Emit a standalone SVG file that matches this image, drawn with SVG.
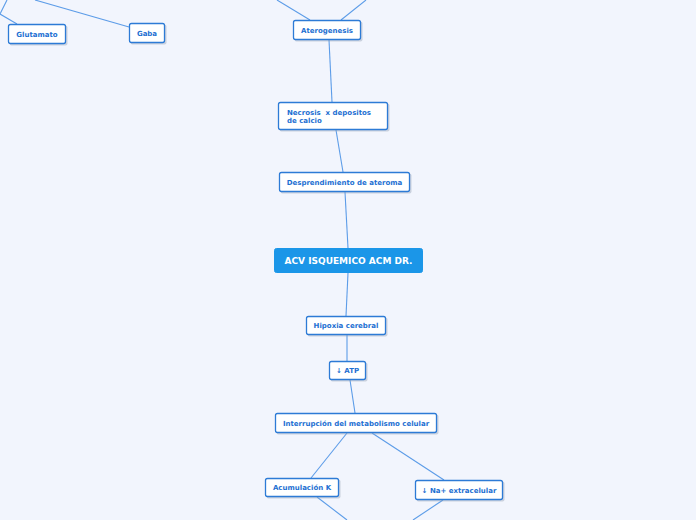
<svg xmlns="http://www.w3.org/2000/svg" width="696" height="520" viewBox="0 0 696 520">
<style>
.bg{fill:#f2f5fd}
.box{fill:#ffffff;stroke:#2d7bd6;stroke-width:1.3}
.sh{fill:#9aa6b8;opacity:0.45}
.t{font-family:"DejaVu Sans",Verdana,sans-serif;font-weight:bold;font-size:7px;fill:#1d6fd2}
.c{text-anchor:middle}
.main{fill:#1b96e8;stroke:#1b96e8}
.mt{font-family:"DejaVu Sans",Verdana,sans-serif;font-weight:bold;font-size:9px;fill:#ffffff;text-anchor:middle}
.ln{stroke:#5c9ce8;stroke-width:1.1;fill:none}
</style>
<rect class="bg" x="0" y="0" width="696" height="520"/>
<g id="connectors">
<polyline class="ln" points="7,0 0,14"/>
<line class="ln" x1="0" y1="14" x2="17" y2="24"/>
<line class="ln" x1="35" y1="0" x2="129" y2="27"/>
<line class="ln" x1="277" y1="0" x2="310" y2="20"/>
<line class="ln" x1="366" y1="0" x2="341" y2="20"/>
<line class="ln" x1="329" y1="40" x2="332" y2="102"/>
<line class="ln" x1="336" y1="130" x2="343" y2="172"/>
<line class="ln" x1="345" y1="192" x2="348" y2="248"/>
<line class="ln" x1="348" y1="273" x2="346" y2="316"/>
<line class="ln" x1="347" y1="335" x2="347" y2="361"/>
<line class="ln" x1="350" y1="380" x2="355" y2="413"/>
<line class="ln" x1="347" y1="433" x2="311" y2="478"/>
<line class="ln" x1="372" y1="433" x2="444" y2="480"/>
<line class="ln" x1="317" y1="497" x2="347" y2="520"/>
<line class="ln" x1="443" y1="500" x2="413" y2="520"/>
</g>
<g id="glutamato">
<rect class="sh" x="9.5" y="25.5" width="58" height="20" rx="2"/>
<rect class="box" x="8.5" y="24.5" width="57" height="19" rx="2"/>
<text class="t c" x="37" y="36.5">Glutamato</text>
</g>
<g id="gaba">
<rect class="sh" x="130.5" y="24.5" width="36" height="20" rx="2"/>
<rect class="box" x="129.5" y="23.5" width="35" height="19" rx="2"/>
<text class="t c" x="147" y="35.5">Gaba</text>
</g>
<g id="aterogenesis">
<rect class="sh" x="294.5" y="21.5" width="68" height="20" rx="2"/>
<rect class="box" x="293.5" y="20.5" width="67" height="19" rx="2"/>
<text class="t c" x="327" y="32.5">Aterogenesis</text>
</g>
<g id="necrosis">
<rect class="sh" x="279.5" y="103.5" width="110" height="28" rx="2"/>
<rect class="box" x="278.5" y="102.5" width="109" height="27" rx="2"/>
<text class="t" x="287" y="115" xml:space="preserve" style="white-space:pre">Necrosis  x depositos</text>
<text class="t" x="287" y="123">de calcio</text>
</g>
<g id="desprendimiento">
<rect class="sh" x="280.5" y="173.5" width="131" height="20" rx="2"/>
<rect class="box" x="279.5" y="172.5" width="130" height="19" rx="2"/>
<text class="t c" x="344.5" y="184.5">Desprendimiento de ateroma</text>
</g>
<g id="acv">
<rect class="main" x="274.5" y="248.5" width="148" height="24" rx="2"/>
<text class="mt" x="348.5" y="264">ACV ISQUEMICO ACM DR.</text>
</g>
<g id="hipoxia">
<rect class="sh" x="307.5" y="317.5" width="80" height="19" rx="2"/>
<rect class="box" x="306.5" y="316.5" width="79" height="18" rx="2"/>
<text class="t c" x="346" y="328">Hipoxia cerebral</text>
</g>
<g id="atp">
<rect class="sh" x="330.5" y="362.5" width="37" height="19" rx="2"/>
<rect class="box" x="329.5" y="361.5" width="36" height="18" rx="2"/>
<text class="t c" x="347.5" y="373">↓ ATP</text>
</g>
<g id="interrupcion">
<rect class="sh" x="276.5" y="414.5" width="162" height="20" rx="2"/>
<rect class="box" x="275.5" y="413.5" width="161" height="19" rx="2"/>
<text class="t c" x="356" y="425.5">Interrupción del metabolismo celular</text>
</g>
<g id="acumulacion">
<rect class="sh" x="266.5" y="479.5" width="74" height="19" rx="2"/>
<rect class="box" x="265.5" y="478.5" width="73" height="18" rx="2"/>
<text class="t c" x="302" y="490">Acumulación K</text>
</g>
<g id="na">
<rect class="sh" x="416.5" y="481.5" width="88" height="20" rx="2"/>
<rect class="box" x="415.5" y="480.5" width="87" height="19" rx="2"/>
<text class="t c" x="459" y="492.5">↓ Na+ extracelular</text>
</g>
</svg>
